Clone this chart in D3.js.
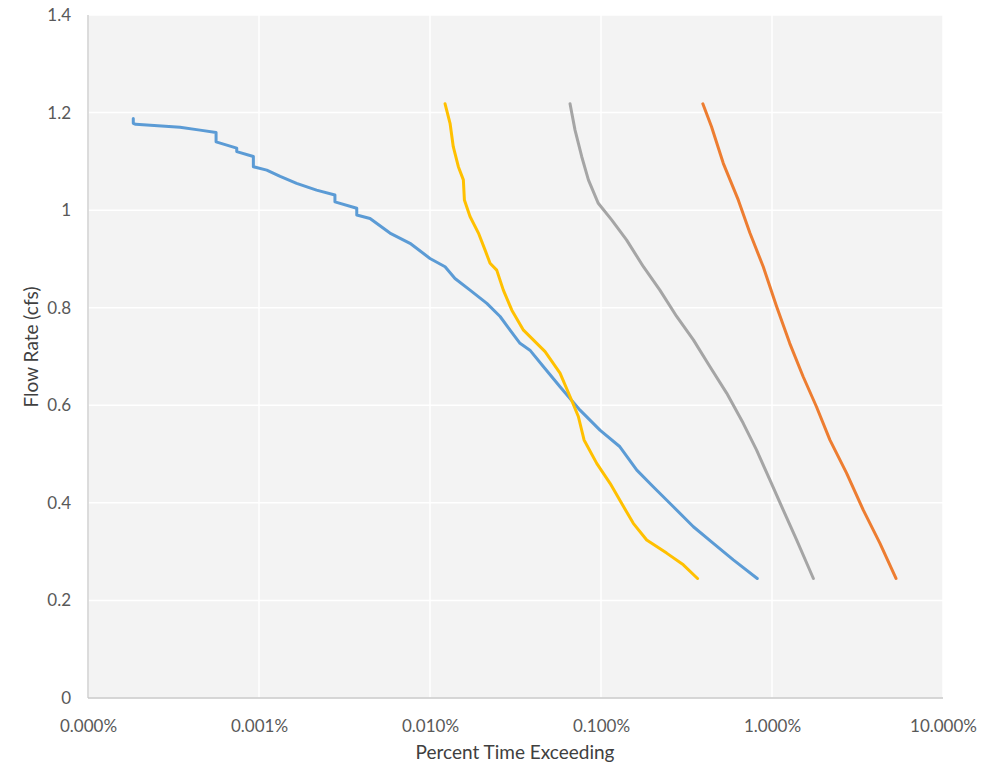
<!DOCTYPE html>
<html>
<head>
<meta charset="utf-8">
<script src="https://cdn.jsdelivr.net/npm/d3@7"></script>
<style>
  body { margin: 0; background: #fff; }
  text { font-family: Lato, "Open Sans", sans-serif; fill: #595959; }
</style>
</head>
<body>
<div id="chart"></div>
<script>
// percent time exceeding (%) and flow rate (cfs)
var bluePct = [0.000184, 0.000184, 0.000190, 0.000345, 0.000452, 0.000561, 0.000561, 0.000741, 0.000741,
  0.000927, 0.000927, 0.00111, 0.00133, 0.00166, 0.00217, 0.00278, 0.00278, 0.00373, 0.00373, 0.00446,
  0.00583, 0.00764, 0.0100, 0.01225, 0.0140, 0.01714, 0.0215, 0.0257, 0.0294, 0.0336, 0.0384, 0.0461,
  0.0576, 0.0754, 0.0986, 0.129, 0.162, 0.202, 0.265, 0.347, 0.454, 0.594, 0.820];
var blueFlow = [1.188, 1.178, 1.176, 1.170, 1.164, 1.159, 1.140, 1.127, 1.120,
  1.110, 1.089, 1.082, 1.069, 1.055, 1.041, 1.031, 1.017, 1.004, 0.990, 0.983,
  0.953, 0.932, 0.901, 0.884, 0.860, 0.836, 0.809, 0.782, 0.754, 0.727, 0.713, 0.679,
  0.638, 0.590, 0.549, 0.515, 0.467, 0.433, 0.392, 0.351, 0.317, 0.283, 0.245];

var yellowPct = [0.01225, 0.0131, 0.01368, 0.01465, 0.01567, 0.01589, 0.01714, 0.0192, 0.0210, 0.02245,
  0.02456, 0.02685, 0.0301, 0.0352, 0.0471, 0.0576, 0.0659, 0.0737, 0.0796, 0.0944, 0.113, 0.132,
  0.1545, 0.185, 0.242, 0.303, 0.367];
var yellowFlow = [1.218, 1.178, 1.130, 1.089, 1.062, 1.021, 0.987, 0.953, 0.918, 0.891,
  0.877, 0.836, 0.795, 0.754, 0.710, 0.666, 0.618, 0.577, 0.529, 0.481, 0.440, 0.399,
  0.358, 0.324, 0.297, 0.273, 0.245];

var grayPct = [0.0659, 0.0705, 0.0771, 0.0844, 0.0964, 0.1154, 0.141, 0.177, 0.221, 0.277, 0.347,
  0.434, 0.543, 0.679, 0.813, 0.972, 1.164, 1.393, 1.746];
var grayFlow = [1.218, 1.164, 1.110, 1.062, 1.014, 0.980, 0.939, 0.884, 0.836, 0.782, 0.734,
  0.679, 0.625, 0.563, 0.508, 0.447, 0.385, 0.324, 0.245];

var orangePct = [0.394, 0.443, 0.519, 0.635, 0.743, 0.889, 1.065, 1.27, 1.52, 1.82, 2.18, 2.73,
  3.42, 4.28, 5.31];
var orangeFlow = [1.218, 1.171, 1.096, 1.021, 0.953, 0.884, 0.802, 0.727, 0.659, 0.597, 0.529, 0.461,
  0.385, 0.317, 0.245];

var xTicks = [0.0001, 0.001, 0.01, 0.1, 1, 10];
var yTicks = [0, 0.2, 0.4, 0.6, 0.8, 1, 1.2, 1.4];

var series = [
  { pct: bluePct, flow: blueFlow, color: '#5b9bd5' },
  { pct: orangePct, flow: orangeFlow, color: '#ed7d31' },
  { pct: grayPct, flow: grayFlow, color: '#a5a5a5' },
  { pct: yellowPct, flow: yellowFlow, color: '#ffc000' }
];

var width = 994, height = 765;
var margin = { left: 88, right: 51, top: 15, bottom: 67 };
var innerW = width - margin.left - margin.right;
var innerH = height - margin.top - margin.bottom;

var svg = d3.select('#chart').append('svg')
    .attr('width', width)
    .attr('height', height);

var x = d3.scaleLog().domain([0.0001, 10]).range([0, innerW]);
var y = d3.scaleLinear().domain([0, 1.4]).range([innerH, 0]);

var g = svg.append('g')
    .attr('transform', 'translate(' + margin.left + ',' + margin.top + ')');

g.append('rect')
    .attr('width', innerW)
    .attr('height', innerH)
    .attr('fill', '#f3f3f3');

// grid
g.selectAll('.hgrid').data(yTicks).enter().append('line')
    .attr('x1', 0).attr('x2', innerW)
    .attr('y1', function(d) { return y(d); })
    .attr('y2', function(d) { return y(d); })
    .attr('stroke', '#fff').attr('stroke-width', 1.5);

g.selectAll('.vgrid').data(xTicks).enter().append('line')
    .attr('y1', 0).attr('y2', innerH)
    .attr('x1', function(d) { return x(d); })
    .attr('x2', function(d) { return x(d); })
    .attr('stroke', '#fff').attr('stroke-width', 1.5);

// axis lines
g.append('line').attr('x1', 0).attr('x2', 0).attr('y1', 0).attr('y2', innerH)
    .attr('stroke', '#d0d0d0').attr('stroke-width', 1.5);
g.append('line').attr('x1', 0).attr('x2', innerW).attr('y1', innerH).attr('y2', innerH)
    .attr('stroke', '#c8c8c8').attr('stroke-width', 1.5);

// tick labels
var xAxis = d3.axisBottom(x).tickValues(xTicks).tickSize(0).tickPadding(22)
    .tickFormat(function(d) { return d3.format('.3f')(d) + '%'; });
var xg = g.append('g').attr('transform', 'translate(0,' + innerH + ')').call(xAxis);
xg.select('.domain').remove();
xg.selectAll('text').style('font-size', '17px').style('fill', '#595959')
    .style('font-family', 'Lato, sans-serif');

var yAxis = d3.axisLeft(y).tickValues(yTicks).tickSize(0).tickPadding(17)
    .tickFormat(function(d) { return String(d); });
var yg = g.append('g').call(yAxis);
yg.select('.domain').remove();
yg.selectAll('text').style('font-size', '17px').style('fill', '#595959')
    .style('font-family', 'Lato, sans-serif');

// lines
var line = d3.line()
    .x(function(d) { return x(d[0]); })
    .y(function(d) { return y(d[1]); });

series.forEach(function(s) {
  var pts = s.pct.map(function(p, i) { return [p, s.flow[i]]; });
  g.append('path')
      .datum(pts)
      .attr('d', line)
      .attr('fill', 'none')
      .attr('stroke', s.color)
      .attr('stroke-width', 3)
      .attr('stroke-linejoin', 'round')
      .attr('stroke-linecap', 'round');
});

// axis titles
svg.append('text')
    .attr('x', 515)
    .attr('y', 759)
    .attr('text-anchor', 'middle')
    .style('font-size', '19px')
    .style('fill', '#404040')
    .text('Percent Time Exceeding');

svg.append('text')
    .attr('transform', 'translate(38,347) rotate(-90)')
    .attr('text-anchor', 'middle')
    .style('font-size', '19px')
    .style('fill', '#404040')
    .text('Flow Rate (cfs)');
</script>
</body>
</html>
